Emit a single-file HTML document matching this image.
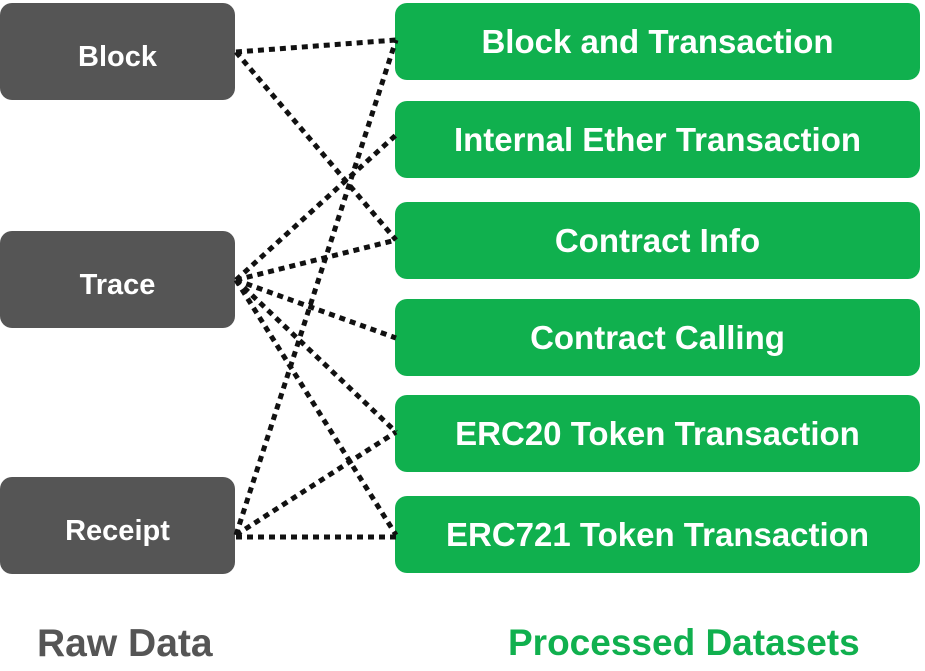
<!DOCTYPE html>
<html><head><style>
body{margin:0;width:925px;height:671px;background:#fff;position:relative;overflow:hidden;font-family:"Liberation Sans",sans-serif;font-weight:bold}
.b{position:absolute;border-radius:12px;color:#fff;display:flex;align-items:center;justify-content:center;font-size:29px;box-sizing:border-box}
.l{background:#555555;left:0;width:235px;height:97px;padding-top:12px}
.r{background:#10b04e;left:395px;width:525px;height:77px;font-size:33px;padding-top:1px}
.f{position:absolute;top:622px;font-size:37px}
</style></head><body>
<div class="b l" style="top:3px">Block</div>
<div class="b l" style="top:231px">Trace</div>
<div class="b l" style="top:477px">Receipt</div>
<div class="b r" style="top:3px">Block and Transaction</div>
<div class="b r" style="top:101px">Internal Ether Transaction</div>
<div class="b r" style="top:202px">Contract Info</div>
<div class="b r" style="top:299px">Contract Calling</div>
<div class="b r" style="top:395px">ERC20 Token Transaction</div>
<div class="b r" style="top:496px">ERC721 Token Transaction</div>
<div class="f" style="left:37px;color:#555;font-size:39px">Raw Data</div>
<div class="f" style="left:508px;color:#10b04e">Processed Datasets</div>
<svg width="925" height="671" style="position:absolute;left:0;top:0">
<g stroke="#111" stroke-width="5" stroke-dasharray="6 5" fill="none">
<line x1="236" y1="52" x2="396" y2="40"/>
<line x1="236" y1="52" x2="396" y2="240"/>
<line x1="236" y1="280" x2="396" y2="135"/>
<line x1="236" y1="280" x2="396" y2="240"/>
<line x1="236" y1="280" x2="396" y2="338"/>
<line x1="236" y1="280" x2="396" y2="432"/>
<line x1="236" y1="280" x2="396" y2="535"/>
<line x1="236" y1="535" x2="396" y2="40"/>
<line x1="236" y1="535" x2="396" y2="432"/>
<line x1="236" y1="537" x2="396" y2="537"/>
</g></svg>
</body></html>
